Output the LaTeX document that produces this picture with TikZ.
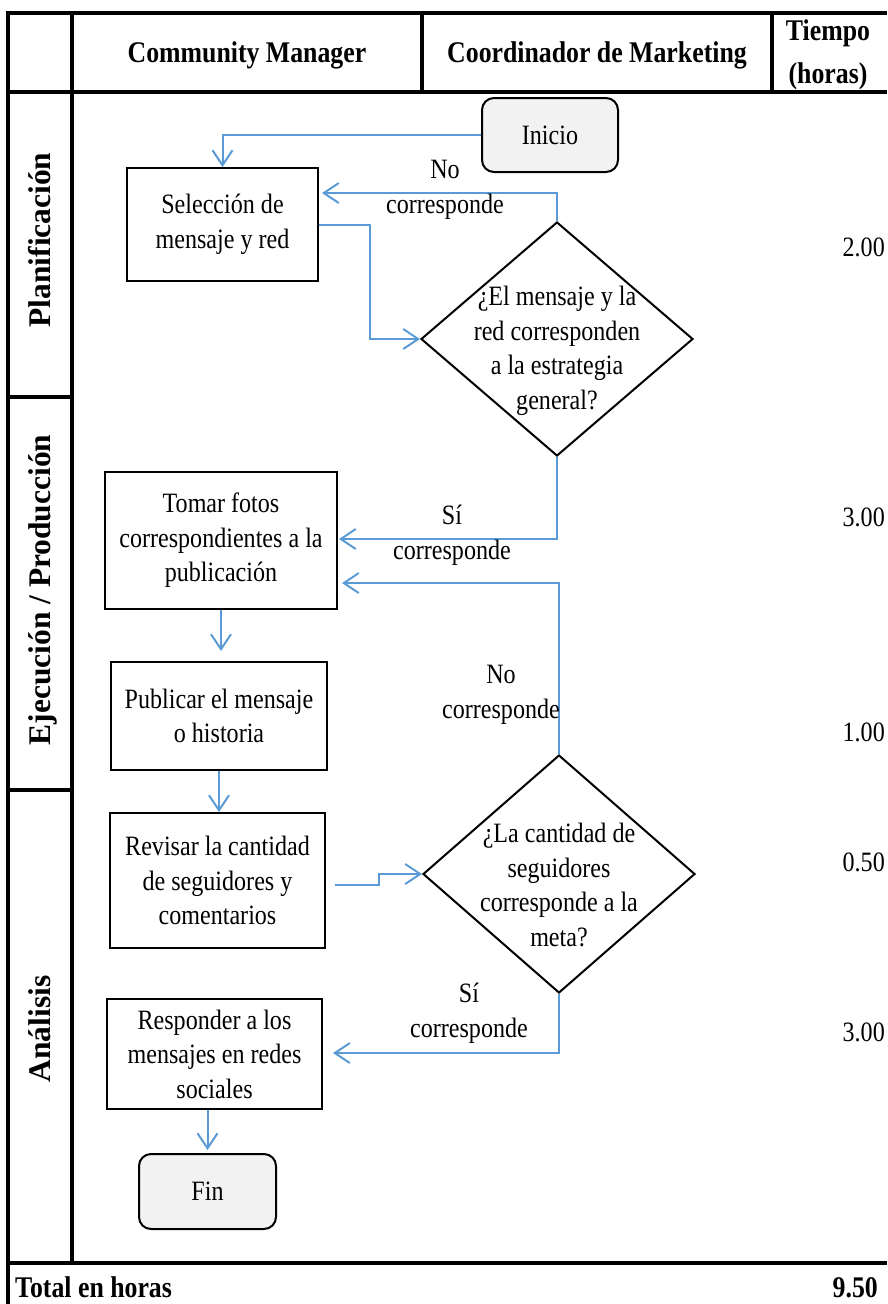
\documentclass[tikz,border=0pt]{standalone}
\usepackage{fontspec}
\setmainfont{Liberation Serif}[FakeStretch=0.86]
\newfontfamily\lanefont{Liberation Serif}
\usetikzlibrary{arrows.meta,shapes.geometric}
\definecolor{flowblue}{HTML}{5B9BD5}
\definecolor{termfill}{HTML}{F2F2F2}
\newcommand\flowtext{\fontsize{28}{34.5}\selectfont}
\newcommand\headtext{\fontsize{30}{36}\selectfont\bfseries}
\newcommand\tiempotext{\fontsize{30}{43}\selectfont\bfseries}
\newcommand\lanetext{\lanefont\fontsize{31.5}{36}\selectfont\bfseries}
\begin{document}
\begin{tikzpicture}[x=1pt,y=-1pt,
  rule/.style={line width=3.2pt},
  procbox/.style={draw, line width=2pt, rectangle, inner sep=0pt, align=center, font=\flowtext},
  termbox/.style={procbox, rounded corners=12pt, fill=termfill},
  decision/.style={draw, line width=2pt, diamond, inner sep=0pt},
  plain/.style={inner sep=0pt, align=center, font=\flowtext},
  hdr/.style={inner sep=0pt, align=center, font=\headtext},
  lanelbl/.style={inner sep=0pt, font=\lanetext, rotate=90, anchor=base},
  flowline/.style={draw=flowblue, line width=2pt},
  flow/.style={flowline, -{Straight Barb[length=15pt,width=20pt]}},
]
\useasboundingbox (0,0) rectangle (887,1304);

% table frame
\draw[rule] (6.4,13) -- (887,13);
\draw[rule] (6.4,92) -- (887,92);
\draw[rule] (6.4,1263) -- (887,1263);
\draw[rule] (8,11.4) -- (8,1304);
\draw[rule] (72,13) -- (72,1263);
\draw[rule] (422,13) -- (422,92);
\draw[rule] (772,13) -- (772,92);
\draw[rule] (8,397) -- (72,397);
\draw[rule] (8,790) -- (72,790);

% header row
\node[hdr] (hcm) at (247,55) {Community Manager};
\node[hdr] (hcoord) at (597,55) {Coordinador de Marketing};
\node[hdr, font=\tiempotext] (htime) at (828,55) {Tiempo\\(horas)};

% lane titles
\node[lanelbl] (lane1) at (50,240) {Planificación};
\node[lanelbl] (lane2) at (50,590) {Ejecución / Producción};
\node[lanelbl] (lane3) at (50,1029) {Análisis};

% flow nodes
\node[termbox, minimum width=136pt, minimum height=74pt] (ini) at (550,135) {Inicio};
\node[procbox, minimum width=191pt, minimum height=113pt] (sel) at (222.5,224.5) {Selección de\\mensaje y red};
\node[decision, minimum width=272pt, minimum height=234pt] (d1) at (557,339) {};
\node[plain] (d1t) at (557,351) {¿El mensaje y la\\red corresponden\\a la estrategia\\general?};
\node[procbox, minimum width=232pt, minimum height=137pt] (tom) at (221,540.5) {Tomar fotos\\correspondientes a la\\publicación};
\node[procbox, minimum width=216pt, minimum height=108pt] (pub) at (219,716) {Publicar el mensaje\\o historia};
\node[procbox, minimum width=215pt, minimum height=135pt] (rev) at (217.5,880.5) {Revisar la cantidad\\de seguidores y\\comentarios};
\node[decision, minimum width=272pt, minimum height=238pt] (d2) at (559,874) {};
\node[plain] (d2t) at (559,885) {¿La cantidad de\\seguidores\\corresponde a la\\meta?};
\node[procbox, minimum width=215pt, minimum height=110pt] (resp) at (214.5,1054) {Responder a los\\mensajes en redes\\sociales};
\node[termbox, minimum width=137pt, minimum height=75pt] (fin) at (207.5,1191.5) {Fin};

% connectors
\draw[flow] (ini.west) -| (sel.north);
\draw[flow] (sel.east) -- ++(51,0) |- (d1.west);
\coordinate (selin) at (322,193);
\draw[flow] (d1.north) |- (selin);
\node[plain] (lno1) at (445,190) {No\\corresponde};
\coordinate (tomin1) at (339,539);
\draw[flow] (d1.south) |- (tomin1);
\node[plain] (lsi1) at (452,535) {Sí\\corresponde};
\coordinate (tomin2) at (342,583);
\draw[flow] (d2.north) |- (tomin2);
\node[plain] (lno2) at (501,695) {No\\corresponde};
\draw[flow, shorten >=10pt] (tom.south) -- (tom.south |- pub.north);
\draw[flow] (pub.south) -- (pub.south |- rev.north);
\coordinate (revout) at (335,885);
\draw[flow] (revout) -- ++(44,0) |- (d2.west);
\coordinate (respin) at (333,1053);
\draw[flow] (d2.south) |- (respin);
\node[plain] (lsi2) at (469,1013) {Sí\\corresponde};
\draw[flow, shorten >=3pt] (fin.north |- resp.south) -- (fin.north);

% hours column
\node[plain, anchor=east] (h1) at (885,247) {2.00};
\node[plain, anchor=east] (h2) at (885,517) {3.00};
\node[plain, anchor=east] (h3) at (885,732) {1.00};
\node[plain, anchor=east] (h4) at (885,862) {0.50};
\node[plain, anchor=east] (h5) at (885,1032) {3.00};

% totals row
\node[hdr, anchor=west] (htot) at (15,1287) {Total en horas};
\node[hdr, anchor=east] (hsum) at (878,1288) {9.50};
\end{tikzpicture}
\end{document}
